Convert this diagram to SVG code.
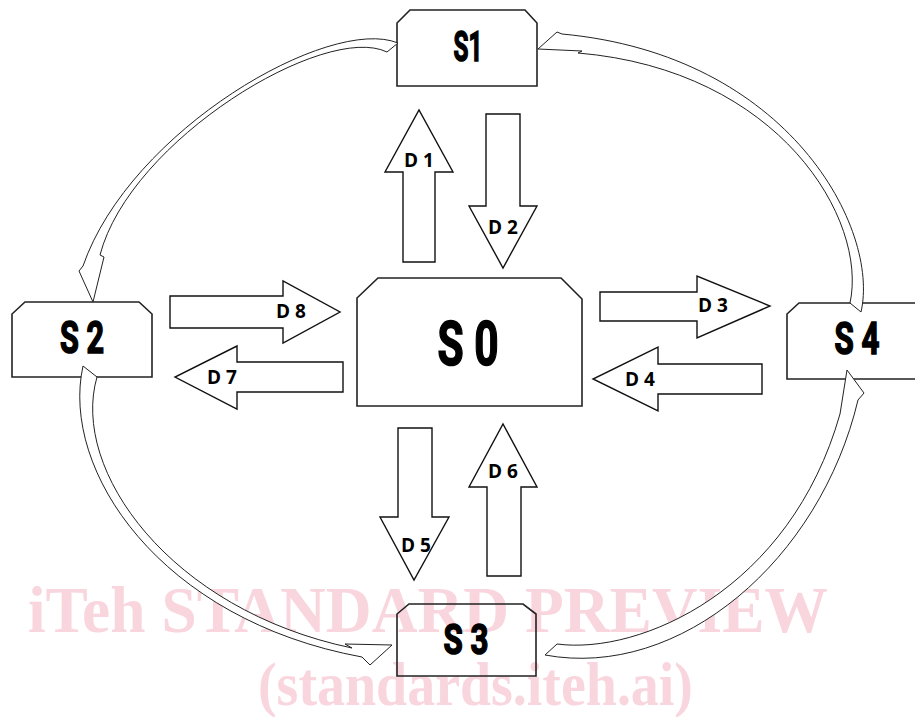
<svg xmlns="http://www.w3.org/2000/svg" width="915" height="717" viewBox="0 0 915 717">
<style>
.wm{font-family:"Liberation Serif","Times New Roman",serif;font-weight:bold;fill:#f9d6de}
.box{fill:none;stroke:#222;stroke-width:1.6}
.nl{font-family:Roboto,"DejaVu Sans",sans-serif;font-weight:bold;fill:#000;stroke:#000;stroke-width:1.6;text-anchor:middle}
.blk{fill:#fff;stroke:#111;stroke-width:1.4;stroke-linejoin:miter}
.cur{fill:#fff;stroke:#222;stroke-width:1}
.dl{font-family:"Open Sans","Liberation Sans",Arial,sans-serif;font-weight:bold;font-size:19px;fill:#000;text-anchor:middle}
</style>
<rect width="915" height="717" fill="#fff"/>
<g id="watermark">
<text class="wm" x="28" y="632" font-size="66" textLength="800" lengthAdjust="spacingAndGlyphs">iTeh STANDARD PREVIEW</text>
<text class="wm" x="258" y="705" font-size="62" textLength="435" lengthAdjust="spacingAndGlyphs">(standards.iteh.ai)</text>
</g>
<g id="node-S1">
<path class="box" d="M397,86 L397,23 L410,10 L525,10 L537,23 L537,86 Z"/>
<text class="nl" x="468" y="61" font-size="43" textLength="29" lengthAdjust="spacingAndGlyphs">S1</text>
</g>
<g id="node-S0">
<path class="box" d="M357,406 L357,298 L378,278 L561,278 L582,299 L582,406 Z"/>
<text class="nl" x="468" y="365" font-size="62" textLength="61" lengthAdjust="spacingAndGlyphs">S 0</text>
</g>
<g id="node-S2">
<path class="box" d="M12,377 L12,314 L25,302 L139,302 L152,314 L152,377 Z"/>
<text class="nl" x="82" y="353" font-size="44" textLength="44" lengthAdjust="spacingAndGlyphs">S 2</text>
</g>
<g id="node-S4">
<path class="box" d="M787,379 L787,314 L799,303 L930,303 L930,379 Z"/>
<text class="nl" x="857" y="354" font-size="44" textLength="45" lengthAdjust="spacingAndGlyphs">S 4</text>
</g>
<g id="node-S3">
<path class="box" d="M397,676 L397,614 L409,604 L523,604 L536,614 L536,676 Z"/>
<text class="nl" x="466" y="654" font-size="43" textLength="45" lengthAdjust="spacingAndGlyphs">S 3</text>
</g>
<g id="connectors">
<polygon class="blk" points="403,262 403,172 385,172 419,110 453,172 435,172 435,262"/>
<text class="dl" x="419" y="167">D 1</text>
<polygon class="blk" points="486,114 520,114 520,206 537,206 503,268 469,206 486,206"/>
<text class="dl" x="503" y="234">D 2</text>
<polygon class="blk" points="170,296 283,296 283,281 340,312 283,343 283,328 170,328"/>
<text class="dl" x="291" y="318">D 8</text>
<polygon class="blk" points="343,362 237,362 237,346 175,377 237,409 237,392 343,392"/>
<text class="dl" x="222" y="384">D 7</text>
<polygon class="blk" points="600,292 697,292 697,276 770,306 697,338 697,321 600,321"/>
<text class="dl" x="713" y="312">D 3</text>
<polygon class="blk" points="762,364 658,364 658,347 593,379 658,411 658,394 762,394"/>
<text class="dl" x="640" y="386">D 4</text>
<polygon class="blk" points="398,428 432,428 432,517 449,517 414,580 380,517 398,517"/>
<text class="dl" x="416" y="552">D 5</text>
<polygon class="blk" points="487,576 487,487 469,487 503,424 537,487 521,487 521,576"/>
<text class="dl" x="503" y="478">D 6</text>
<path class="cur" d="M398,43 C330,15 130,130 83,266 L79,271 L93,302 L104,257 L100,255 C130,140 325,22 387,52 Z"/>
<path class="cur" d="M83,366 C60,470 160,620 362,657 L370,665 L392,645 L345,644 L352,648 C170,610 70,470 97,377 Z"/>
<path class="cur" d="M545,655 L557,644 C640,655 790,590 840,414 L847,370 L864,393 L858,400 C820,560 680,680 545,655 Z"/>
<path class="cur" d="M861,312 C880,230 790,55 562,34 L557,32 L538,49 L582,51 L578,53 C780,70 868,220 850,303 Z"/>
</g>
</svg>
